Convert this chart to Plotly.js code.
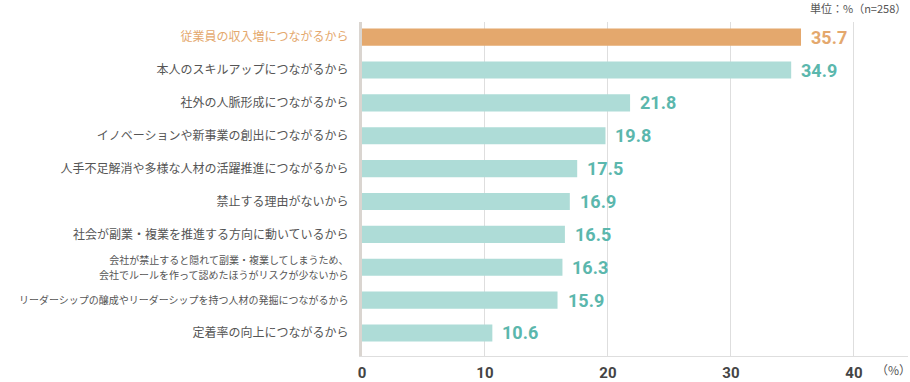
<!DOCTYPE html>
<html><head><meta charset="utf-8">
<script src="https://cdn.plot.ly/plotly-3.0.1.min.js"></script>
<style>body{margin:0;background:#fff}#c{width:910px;height:382px}</style>
</head><body><div id="c"></div>
<script>
const categories = [
  "従業員の収入増につながるから",
  "本人のスキルアップにつながるから",
  "社外の人脈形成につながるから",
  "イノベーションや新事業の創出につながるから",
  "人手不足解消や多様な人材の活躍推進につながるから",
  "禁止する理由がないから",
  "社会が副業・複業を推進する方向に動いているから",
  "会社が禁止すると隠れて副業・複業してしまうため、<br>会社でルールを作って認めたほうがリスクが少ないから",
  "リーダーシップの醸成やリーダーシップを持つ人材の発掘につながるから",
  "定着率の向上につながるから"
];
const values = [35.7, 34.9, 21.8, 19.8, 17.5, 16.9, 16.5, 16.3, 15.9, 10.6];
const xTicks = [0, 10, 20, 30, 40];

const ORANGE = "#E4A86D", TEAL_BAR = "#AEDCD7", TEAL_TXT = "#5BB7AD";
const barColors = values.map((v,i)=> i===0 ? ORANGE : TEAL_BAR);
const txtColors = values.map((v,i)=> i===0 ? ORANGE : TEAL_TXT);
const small = [7,8];
const tickText = categories.map((c,i)=>{
  const col = i===0 ? ORANGE : "#555";
  const fs = small.includes(i) ? 10 : 12;
  return `<span style="color:${col};font-size:${fs}px">${c}</span>`;
});

const trace = {
  type: "bar", orientation: "h",
  x: values, y: categories,
  marker: {color: barColors},
  hoverinfo: "none"
};

const annotations = values.map((v,i)=>({
  x: v, y: categories[i], xref: "x", yref: "y",
  text: v.toFixed(1), showarrow: false, xanchor: "left", xshift: 8, yshift: 0,
  font: {family: "Roboto, sans-serif", size: 18, color: txtColors[i], weight: 700}
}));
annotations.push({
  x: 1, y: 1, xref: "paper", yref: "paper", xanchor: "right", yanchor: "bottom",
  yshift: 4, text: "単位：%（n=258）", showarrow: false,
  font: {family: "Noto Sans CJK JP", size: 11, color: "#555"}
});
annotations.push({
  x: 43.2, y: 0, xref: "x", yref: "paper", xanchor: "center", yanchor: "middle",
  yshift: -13, text: "（%）", showarrow: false,
  font: {family: "Noto Sans CJK JP", size: 12, color: "#555"}
});

const layout = {
  width: 910, height: 382,
  margin: {l: 362, r: 2, t: 22, b: 26},
  paper_bgcolor: "#fff", plot_bgcolor: "#fff",
  showlegend: false,
  bargap: 0.48,
  font: {family: "Noto Sans CJK JP, sans-serif", color: "#555"},
  xaxis: {
    range: [0, 44.4], tickvals: xTicks, ticktext: xTicks.map(String),
    showgrid: true, gridcolor: "#dedede", gridwidth: 1,
    zeroline: false,
    showline: true, linecolor: "#dedede", linewidth: 1,
    ticks: "outside", ticklen: 3, tickcolor: "rgba(0,0,0,0)",
    tickfont: {family: "Roboto, sans-serif", size: 15, color: "#444", weight: 700},
    fixedrange: true
  },
  yaxis: {
    type: "category",
    range: [9.7, -0.46],
    tickvals: categories, ticktext: tickText,
    ticks: "outside", ticklen: 8, tickcolor: "rgba(0,0,0,0)",
    showgrid: false, zeroline: false,
    showline: true, linecolor: "#dad5d0", linewidth: 3,
    tickfont: {family: "Noto Sans CJK JP", size: 12, color: "#555"},
    fixedrange: true
  },
  annotations: annotations
};
Plotly.newPlot("c", [trace], layout, {displayModeBar: false, staticPlot: true});
</script></body></html>
